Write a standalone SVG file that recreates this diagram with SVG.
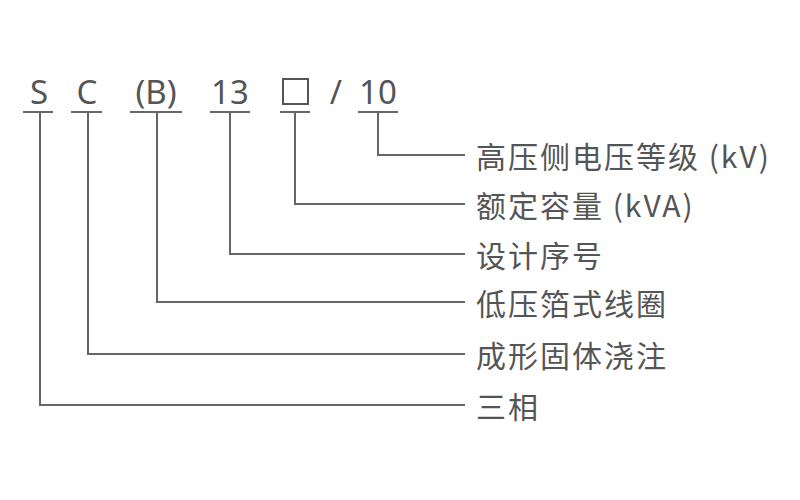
<svg xmlns="http://www.w3.org/2000/svg" width="800" height="500" viewBox="0 0 800 500">
<style>
.t{font-family:"Noto Sans","Noto Sans CJK SC",sans-serif;fill:#555;font-size:33px}
.l{font-family:"Noto Sans CJK SC","Noto Sans",sans-serif;fill:#555;font-size:30px;letter-spacing:2px;dominant-baseline:central}
.c{fill:none;stroke:#666;stroke-width:2}
</style>
<rect width="800" height="500" fill="#fff"/>
<g id="code">
<text class="t" x="39" y="104" text-anchor="middle">S</text>
<text class="t" x="87" y="104" text-anchor="middle">C</text>
<text class="t" x="156" y="104" text-anchor="middle">(B)</text>
<text class="t" x="230" y="104" text-anchor="middle">13</text>
<rect x="283" y="79" width="25" height="25" fill="none" stroke="#555" stroke-width="2"/>
<text class="t" x="336" y="104" text-anchor="middle">/</text>
<text class="t" x="378" y="104" text-anchor="middle">10</text>
</g>
<g id="connectors">
<path class="c" d="M23 112H53M40 112V405H465"/>
<path class="c" d="M71 112H102M88 112V354H465"/>
<path class="c" d="M130 112H182M157 112V302H465"/>
<path class="c" d="M210 112H250M230 112V254H465"/>
<path class="c" d="M280 112H310M295 112V204H465"/>
<path class="c" d="M358 112H398M378 112V155H465"/>
</g>
<g id="n1"><text class="l" x="476" y="155">高压侧电压等级 (kV)</text></g>
<g id="n2"><text class="l" x="476" y="204">额定容量 (kVA)</text></g>
<g id="n3"><text class="l" x="476" y="254">设计序号</text></g>
<g id="n4"><text class="l" x="476" y="302">低压箔式线圈</text></g>
<g id="n5"><text class="l" x="476" y="354">成形固体浇注</text></g>
<g id="n6"><text class="l" x="476" y="405">三相</text></g>
</svg>
